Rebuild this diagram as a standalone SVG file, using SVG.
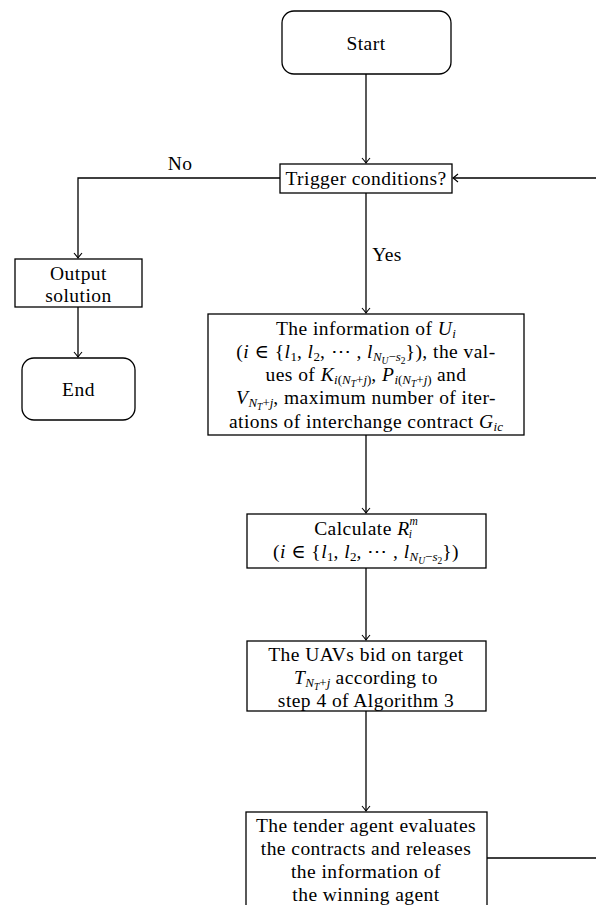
<svg xmlns="http://www.w3.org/2000/svg" width="596" height="905" viewBox="0 0 596 905">
<defs>
<style>
text{font-family:"Liberation Serif","DejaVu Serif",serif;font-size:19.5px;letter-spacing:0.45px;fill:#000;text-anchor:middle}
.m{font-style:italic}
.s{font-size:13px;letter-spacing:0}
.ss{font-size:9.5px;letter-spacing:0}
.sm{font-size:11.5px;letter-spacing:0}
.box{fill:#fff;stroke:#000;stroke-width:1.3}
.c{fill:none;stroke:#000;stroke-width:1.3}
</style>
<marker id="ar" markerUnits="userSpaceOnUse" markerWidth="12" markerHeight="12" viewBox="-8 -6 10 12" refX="0" refY="0" orient="auto">
<path d="M-5,-4 Q-1.5,-1 0,0 Q-1.5,1 -5,4" fill="none" stroke="#000" stroke-width="1.1"/>
</marker>
</defs>
<g id="connectors">
<line class="c" x1="366" y1="74" x2="366" y2="163" marker-end="url(#ar)"/>
<line class="c" x1="366" y1="193" x2="366" y2="313" marker-end="url(#ar)"/>
<path class="c" d="M280,178 H78 V258" marker-end="url(#ar)"/>
<line class="c" x1="78" y1="307" x2="78" y2="357" marker-end="url(#ar)"/>
<line class="c" x1="366" y1="435" x2="366" y2="513" marker-end="url(#ar)"/>
<line class="c" x1="366" y1="568" x2="366" y2="640" marker-end="url(#ar)"/>
<line class="c" x1="366" y1="711" x2="366" y2="811" marker-end="url(#ar)"/>
<path class="c" d="M487,858 H597 V178 H453" marker-end="url(#ar)"/>
<text x="180" y="170">No</text>
<text x="387" y="261">Yes</text>
</g>
<g id="start">
<rect class="box" x="282" y="11" width="169" height="63" rx="12"/>
<text x="366" y="50">Start</text>
</g>
<g id="trigger">
<rect class="box" x="280" y="164" width="172" height="29"/>
<text x="366" y="185">Trigger conditions?</text>
</g>
<g id="output">
<rect class="box" x="15" y="259" width="127" height="48"/>
<text x="78.5" y="280">Output</text>
<text x="78.5" y="302">solution</text>
</g>
<g id="end">
<rect class="box" x="22" y="358" width="113" height="62" rx="12"/>
<text x="78.5" y="396">End</text>
</g>
<g id="info">
<rect class="box" x="208" y="314" width="316" height="121"/>
<text x="366" y="335">The information of <tspan class="m">U</tspan><tspan class="s m" dy="3">i</tspan></text>
<text x="366" y="358">(<tspan class="m">i</tspan> ∈ {<tspan class="m">l</tspan><tspan class="s" dy="3">1</tspan><tspan dy="-3">, </tspan><tspan class="m">l</tspan><tspan class="s" dy="3">2</tspan><tspan dy="-3">, ⋯ , </tspan><tspan class="m">l</tspan><tspan class="s m" dy="3">N</tspan><tspan class="ss m" dy="2.5">U</tspan><tspan class="s" dy="-2.5">−</tspan><tspan class="s m">s</tspan><tspan class="ss" dy="2.5">2</tspan><tspan dy="-5.5">}), the val-</tspan></text>
<text x="366" y="381">ues of <tspan class="m">K</tspan><tspan class="s m" dy="3">i</tspan><tspan class="s">(</tspan><tspan class="s m">N</tspan><tspan class="ss m" dy="2.5">T</tspan><tspan class="s" dy="-2.5">+</tspan><tspan class="s m">j</tspan><tspan class="s">)</tspan><tspan dy="-3">, </tspan><tspan class="m">P</tspan><tspan class="s m" dy="3">i</tspan><tspan class="s">(</tspan><tspan class="s m">N</tspan><tspan class="ss m" dy="2.5">T</tspan><tspan class="s" dy="-2.5">+</tspan><tspan class="s m">j</tspan><tspan class="s">)</tspan><tspan dy="-3"> and</tspan></text>
<text x="366" y="404"><tspan class="m">V</tspan><tspan class="s m" dy="3">N</tspan><tspan class="ss m" dy="2.5">T</tspan><tspan class="s" dy="-2.5">+</tspan><tspan class="s m">j</tspan><tspan dy="-3">, maximum number of iter-</tspan></text>
<text x="366" y="428">ations of interchange contract <tspan class="m">G</tspan><tspan class="s m" dy="3">ic</tspan></text>
</g>
<g id="calc">
<rect class="box" x="247" y="514" width="239" height="54"/>
<text x="366" y="535">Calculate <tspan class="m">R</tspan><tspan class="sm m" dy="-10">m</tspan><tspan class="sm m" dx="-9" dy="13">i</tspan></text>
<text x="366" y="558">(<tspan class="m">i</tspan> ∈ {<tspan class="m">l</tspan><tspan class="s" dy="3">1</tspan><tspan dy="-3">, </tspan><tspan class="m">l</tspan><tspan class="s" dy="3">2</tspan><tspan dy="-3">, ⋯ , </tspan><tspan class="m">l</tspan><tspan class="s m" dy="3">N</tspan><tspan class="ss m" dy="2.5">U</tspan><tspan class="s" dy="-2.5">−</tspan><tspan class="s m">s</tspan><tspan class="ss" dy="2.5">2</tspan><tspan dy="-5.5">})</tspan></text>
</g>
<g id="bid">
<rect class="box" x="247" y="641" width="239" height="70"/>
<text x="366" y="661">The UAVs bid on target</text>
<text x="366" y="684"><tspan class="m">T</tspan><tspan class="s m" dy="3">N</tspan><tspan class="ss m" dy="2.5">T</tspan><tspan class="s" dy="-2.5">+</tspan><tspan class="s m">j</tspan><tspan dy="-3"> according to</tspan></text>
<text x="366" y="707">step 4 of Algorithm 3</text>
</g>
<g id="tender">
<rect class="box" x="246" y="812" width="241" height="110"/>
<text x="366" y="832">The tender agent evaluates</text>
<text x="366" y="855">the contracts and releases</text>
<text x="366" y="878">the information of</text>
<text x="366" y="901">the winning agent</text>
</g>
</svg>
